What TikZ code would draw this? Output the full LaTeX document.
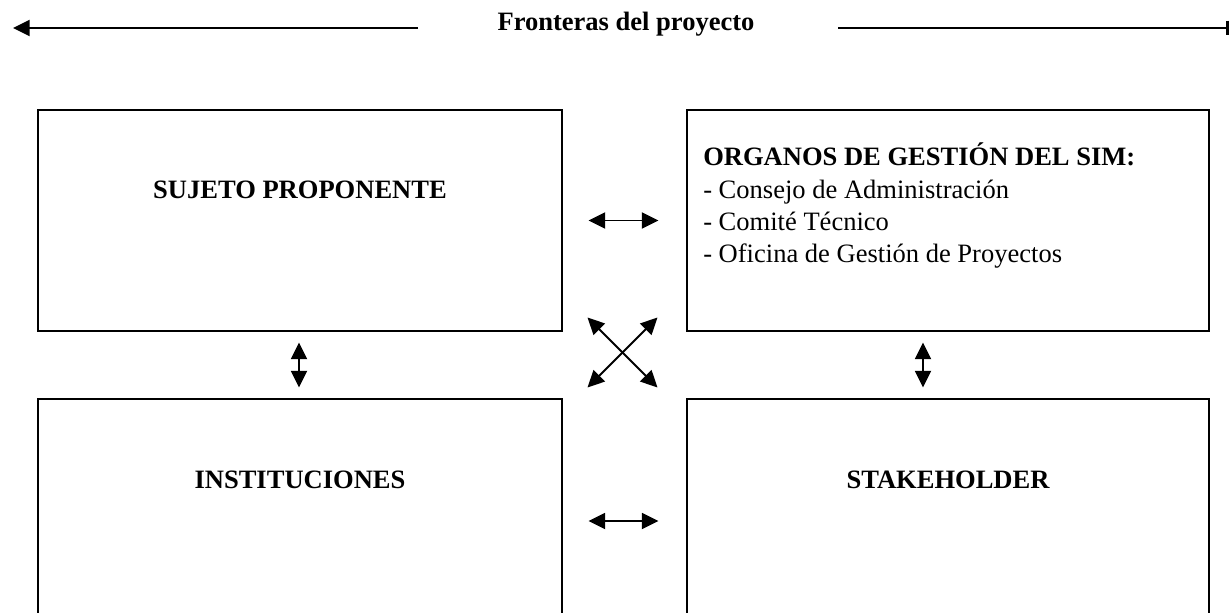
\documentclass[tikz,border=0pt]{standalone}
\usepackage{fontspec}
\setmainfont{Liberation Serif}
\usetikzlibrary{arrows.meta,fit}
\tikzset{
  box/.style={draw=black, line width=0.8pt, inner sep=0pt},
  lbl/.style={inner sep=0pt, font=\fontsize{19.9}{23.9}\selectfont\bfseries},
  itm/.style={inner sep=0pt, font=\fontsize{19.9}{23.9}\selectfont},
  tipx/.tip={Triangle[length=12.5pt,width=12pt]},
  biarrow/.style={line width=1.4pt, {tipx}-{tipx}},
}
\begin{document}
\begin{tikzpicture}[x=0.75pt,y=-0.75pt]
\useasboundingbox (0,0) rectangle (1231,613);
\clip (0,0) rectangle (1231,613);
% frontier line
\node[lbl, anchor=base] (title) at (626,31) {Fronteras del proyecto};
\coordinate (la) at (418,28);
\coordinate (lb) at (13,28);
\coordinate (ra) at (838,28);
\coordinate (rb) at (1229,28);
\draw[line width=1.6pt, -{Triangle[length=12.5pt,width=12pt]}] (la) -- (lb);
\draw[line width=1.6pt, -{Bar[width=11pt,line width=2pt]}] (ra) -- (rb);
% boxes
\node[box, fit={(38,110) (562,331)}] (tl) {};
\node[box, fit={(687,110) (1209,331)}] (tr) {};
\node[box, fit={(38,399) (562,643)}] (bl) {};
\node[box, fit={(687,399) (1209,643)}] (br) {};
% texts
\node[lbl, anchor=base] (tlt) at (300,199) {SUJETO PROPONENTE};
\node[lbl, anchor=base] (blt) at (300,488) {INSTITUCIONES};
\node[lbl, anchor=base] (brt) at (948,488) {STAKEHOLDER};
\node[lbl, anchor=base west] (trh) at (703,166) {ORGANOS DE GESTIÓN DEL SIM:};
\node[itm, anchor=base west] (tr1) at (703,198.5) {- Consejo de Administración};
\node[itm, anchor=base west] (tr2) at (703,230.5) {- Comité Técnico};
\node[itm, anchor=base west] (tr3) at (703,262.5) {- Oficina de Gestión de Proyectos};
% connectors
\draw[biarrow, shorten <=19.5pt, shorten >=21pt] (tl) -- (tr);
\draw[biarrow, shorten <=19.5pt, shorten >=21pt] (bl) -- (br);
\draw[biarrow, shorten <=8.25pt, shorten >=8.25pt] ([xshift=-0.75pt]tl.south) -- ([xshift=-0.75pt]bl.north);
\draw[biarrow, shorten <=8.25pt, shorten >=8.25pt] ([xshift=-18.75pt]tr.south) -- ([xshift=-18.75pt]br.north);
\draw[biarrow] ([shift={(25,-14)}]tl.south east) -- ([shift={(-29,-11)}]br.north west);
\draw[biarrow] ([shift={(-29,-14)}]tr.south west) -- ([shift={(25,-11)}]bl.north east);
\end{tikzpicture}
\end{document}
